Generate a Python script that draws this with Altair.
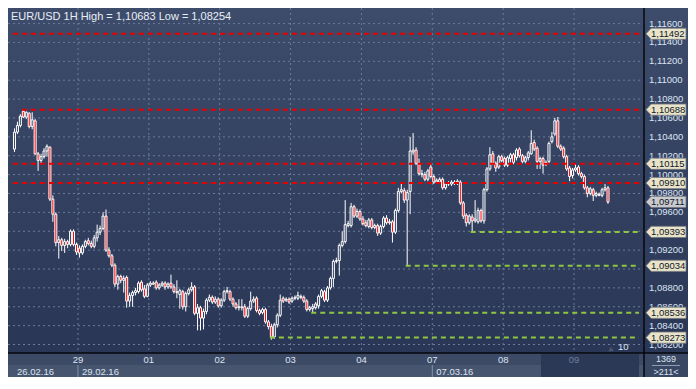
import altair as alt
import pandas as pd

# ---------------- data ----------------
TITLE = "EUR/USD 1H High = 1,10683 Low = 1,08254"

OPEN = [1.1027, 1.1045, 1.1052, 1.1067, 1.1061, 1.1065, 1.1051, 1.1057, 1.1022, 1.1015, 1.1019, 1.1025,
        1.1029, 1.0974, 1.0958, 1.0928, 1.0931, 1.0925, 1.0929, 1.0926, 1.0940, 1.0926, 1.0922, 1.0917,
        1.0924, 1.0930, 1.0927, 1.0924, 1.0933, 1.0939, 1.0943, 1.0956, 1.0920, 1.0914, 1.0904, 1.0884,
        1.0892, 1.0888, 1.0891, 1.0866, 1.0872, 1.0875, 1.0876, 1.0886, 1.0879, 1.0871, 1.0883, 1.0885,
        1.0886, 1.0880, 1.0883, 1.0885, 1.0881, 1.0885, 1.0881, 1.0876, 1.0873, 1.0876, 1.0860, 1.0874,
        1.0878, 1.0881, 1.0853, 1.0859, 1.0848, 1.0855, 1.0867, 1.0870, 1.0865, 1.0868, 1.0861, 1.0867,
        1.0876, 1.0876, 1.0868, 1.0863, 1.0859, 1.0860, 1.0860, 1.0850, 1.0858, 1.0866, 1.0869, 1.0856,
        1.0854, 1.0857, 1.0844, 1.0839, 1.0828, 1.0841, 1.0851, 1.0869, 1.0867, 1.0868, 1.0866, 1.0869,
        1.0869, 1.0871, 1.0870, 1.0866, 1.0857, 1.0858, 1.0859, 1.0861, 1.0871, 1.0876, 1.0867, 1.0880,
        1.0890, 1.0908, 1.0909, 1.0925, 1.0929, 1.0946, 1.0946, 1.0966, 1.0956, 1.0961, 1.0953, 1.0949,
        1.0945, 1.0952, 1.0944, 1.0946, 1.0938, 1.0945, 1.0954, 1.0949, 1.0950, 1.0939, 1.0962, 1.0982,
        1.0983, 1.0973, 1.0982, 1.1024, 1.1026, 1.1012, 1.1001, 1.1000, 1.0995, 1.1008, 1.0998, 1.0992,
        1.0992, 1.0995, 1.0986, 1.0990, 1.0990, 1.0992, 1.0991, 1.0992, 1.0970, 1.0957, 1.0949, 1.0955,
        1.0951, 1.0950, 1.0962, 1.0951, 1.0984, 1.1006, 1.1022, 1.1012, 1.1008, 1.1019, 1.1017, 1.1010,
        1.1017, 1.1021, 1.1018, 1.1027, 1.1020, 1.1014, 1.1018, 1.1022, 1.1034, 1.1028, 1.1014, 1.1017,
        1.1011, 1.1014, 1.1035, 1.1043, 1.1057, 1.1030, 1.1028, 1.1019, 1.1007, 1.0999, 1.1005, 1.1008,
        1.1001, 1.0998, 1.0986, 1.0980, 1.0984, 1.0978, 1.0978, 1.0978, 1.0984, 1.0986]

HIGH = [1.1049, 1.1056, 1.1064, 1.1068, 1.1067, 1.1066, 1.1066, 1.1059, 1.1024, 1.1022, 1.1028, 1.1032,
        1.1030, 1.0978, 1.0960, 1.0935, 1.0933, 1.0932, 1.0931, 1.0942, 1.0942, 1.0928, 1.0925, 1.0926,
        1.0931, 1.0933, 1.0930, 1.0936, 1.0947, 1.0946, 1.0960, 1.0963, 1.0923, 1.0916, 1.0906, 1.0894,
        1.0894, 1.0893, 1.0893, 1.0875, 1.0877, 1.0880, 1.0887, 1.0888, 1.0883, 1.0885, 1.0887, 1.0887,
        1.0888, 1.0885, 1.0887, 1.0887, 1.0886, 1.0894, 1.0884, 1.0888, 1.0879, 1.0878, 1.0876, 1.0880,
        1.0886, 1.0883, 1.0863, 1.0861, 1.0858, 1.0869, 1.0873, 1.0872, 1.0871, 1.0870, 1.0869, 1.0878,
        1.0881, 1.0878, 1.0870, 1.0865, 1.0868, 1.0868, 1.0863, 1.0860, 1.0876, 1.0871, 1.0871, 1.0858,
        1.0859, 1.0859, 1.0846, 1.0842, 1.0843, 1.0853, 1.0873, 1.0871, 1.0870, 1.0870, 1.0871, 1.0872,
        1.0876, 1.0873, 1.0872, 1.0868, 1.0861, 1.0863, 1.0865, 1.0873, 1.0879, 1.0878, 1.0882, 1.0892,
        1.0910, 1.0912, 1.0927, 1.0940, 1.0973, 1.0951, 1.0970, 1.0968, 1.0964, 1.0963, 1.0956, 1.0952,
        1.0954, 1.0954, 1.0948, 1.0948, 1.0947, 1.0956, 1.0957, 1.0953, 1.0952, 1.0964, 1.0986, 1.0991,
        1.0986, 1.0984, 1.1040, 1.1044, 1.1029, 1.1017, 1.1005, 1.1003, 1.1006, 1.1011, 1.1000, 1.0996,
        1.0997, 1.0997, 1.0992, 1.0993, 1.0994, 1.0994, 1.0995, 1.0994, 1.0972, 1.0959, 1.0958, 1.0958,
        1.0973, 1.0965, 1.0964, 1.0986, 1.1008, 1.1029, 1.1025, 1.1014, 1.1021, 1.1021, 1.1019, 1.1020,
        1.1023, 1.1023, 1.1028, 1.1029, 1.1022, 1.1020, 1.1025, 1.1047, 1.1037, 1.1030, 1.1019, 1.1019,
        1.1015, 1.1035, 1.1045, 1.1060, 1.1061, 1.1032, 1.1030, 1.1021, 1.1009, 1.1007, 1.1011, 1.1010,
        1.1003, 1.1000, 1.0988, 1.0987, 1.0986, 1.0982, 1.0981, 1.0986, 1.0990, 1.0988]

LOW = [1.1024, 1.1043, 1.1050, 1.1060, 1.1059, 1.1049, 1.1048, 1.1021, 1.1004, 1.1011, 1.1017, 1.1019,
       1.0972, 1.0950, 1.0924, 1.0911, 1.0919, 1.0917, 1.0922, 1.0924, 1.0924, 1.0915, 1.0912, 1.0915,
       1.0922, 1.0925, 1.0922, 1.0922, 1.0929, 1.0936, 1.0941, 1.0918, 1.0912, 1.0902, 1.0881, 1.0878,
       1.0885, 1.0875, 1.0859, 1.0860, 1.0860, 1.0872, 1.0874, 1.0876, 1.0869, 1.0870, 1.0881, 1.0883,
       1.0878, 1.0878, 1.0881, 1.0878, 1.0879, 1.0879, 1.0874, 1.0869, 1.0858, 1.0857, 1.0855, 1.0872,
       1.0876, 1.0851, 1.0835, 1.0835, 1.0836, 1.0852, 1.0865, 1.0863, 1.0863, 1.0859, 1.0859, 1.0865,
       1.0874, 1.0866, 1.0860, 1.0857, 1.0856, 1.0856, 1.0848, 1.0848, 1.0856, 1.0864, 1.0854, 1.0851,
       1.0852, 1.0842, 1.0836, 1.0825, 1.0826, 1.0838, 1.0849, 1.0864, 1.0865, 1.0863, 1.0864, 1.0867,
       1.0867, 1.0868, 1.0864, 1.0855, 1.0855, 1.0854, 1.0857, 1.0858, 1.0869, 1.0865, 1.0865, 1.0878,
       1.0881, 1.0906, 1.0893, 1.0923, 1.0927, 1.0944, 1.0944, 1.0954, 1.0954, 1.0951, 1.0946, 1.0944,
       1.0943, 1.0942, 1.0942, 1.0935, 1.0936, 1.0943, 1.0947, 1.0947, 1.0928, 1.0937, 1.0960, 1.0980,
       1.0970, 1.0903, 1.0958, 1.1021, 1.1010, 1.0999, 1.0997, 1.0993, 1.0993, 1.0996, 1.0990, 1.0991,
       1.0990, 1.0984, 1.0984, 1.0988, 1.0988, 1.0989, 1.0989, 1.0968, 1.0953, 1.0945, 1.0947, 1.0939,
       1.0949, 1.0948, 1.0949, 1.0948, 1.0982, 1.1004, 1.1010, 1.1003, 1.1006, 1.1013, 1.1008, 1.1008,
       1.1013, 1.1011, 1.1015, 1.1018, 1.1012, 1.1012, 1.1015, 1.1021, 1.1025, 1.1006, 1.1006, 1.1001,
       1.1009, 1.1012, 1.1033, 1.1041, 1.1028, 1.1025, 1.1017, 1.1004, 1.0993, 1.0996, 1.1003, 1.0999,
       1.0996, 1.0984, 1.0976, 1.0978, 1.0972, 1.0976, 1.0977, 1.0976, 1.0982, 1.0969]

CLOSE = [1.1045, 1.1052, 1.1062, 1.1061, 1.1066, 1.1051, 1.1058, 1.1022, 1.1015, 1.1019, 1.1025, 1.1030,
         1.0974, 1.0958, 1.0928, 1.0931, 1.0925, 1.0929, 1.0926, 1.0940, 1.0926, 1.0918, 1.0917, 1.0924,
         1.0929, 1.0927, 1.0924, 1.0933, 1.0939, 1.0943, 1.0956, 1.0920, 1.0914, 1.0904, 1.0884, 1.0892,
         1.0888, 1.0890, 1.0866, 1.0872, 1.0875, 1.0877, 1.0885, 1.0878, 1.0871, 1.0883, 1.0885, 1.0884,
         1.0880, 1.0883, 1.0885, 1.0881, 1.0884, 1.0881, 1.0876, 1.0875, 1.0877, 1.0860, 1.0874, 1.0878,
         1.0881, 1.0853, 1.0859, 1.0848, 1.0855, 1.0867, 1.0870, 1.0865, 1.0868, 1.0861, 1.0867, 1.0876,
         1.0877, 1.0868, 1.0863, 1.0859, 1.0860, 1.0859, 1.0850, 1.0858, 1.0866, 1.0868, 1.0856, 1.0853,
         1.0857, 1.0844, 1.0839, 1.0828, 1.0841, 1.0851, 1.0867, 1.0866, 1.0868, 1.0865, 1.0869, 1.0870,
         1.0872, 1.0870, 1.0866, 1.0857, 1.0859, 1.0860, 1.0863, 1.0871, 1.0877, 1.0867, 1.0880, 1.0890,
         1.0908, 1.0909, 1.0925, 1.0929, 1.0947, 1.0948, 1.0966, 1.0956, 1.0961, 1.0953, 1.0948, 1.0946,
         1.0952, 1.0944, 1.0946, 1.0938, 1.0945, 1.0954, 1.0949, 1.0950, 1.0939, 1.0962, 1.0982, 1.0984,
         1.0973, 1.0981, 1.1025, 1.1026, 1.1012, 1.1001, 1.1000, 1.0995, 1.1004, 1.0998, 1.0992, 1.0994,
         1.0995, 1.0986, 1.0990, 1.0991, 1.0992, 1.0991, 1.0993, 1.0970, 1.0956, 1.0949, 1.0956, 1.0951,
         1.0953, 1.0962, 1.0951, 1.0984, 1.1006, 1.1021, 1.1012, 1.1007, 1.1019, 1.1015, 1.1010, 1.1018,
         1.1021, 1.1013, 1.1026, 1.1020, 1.1014, 1.1018, 1.1023, 1.1033, 1.1027, 1.1014, 1.1017, 1.1010,
         1.1013, 1.1033, 1.1040, 1.1057, 1.1030, 1.1027, 1.1019, 1.1006, 1.0998, 1.1005, 1.1007, 1.1001,
         1.0998, 1.0986, 1.0980, 1.0985, 1.0978, 1.0980, 1.0979, 1.0984, 1.0986, 1.0971]

RED_LEVELS = [1.11492, 1.10688, 1.10115, 1.09910]
RED_FROM = [0, 3, 0, 0]
GREEN_LEVELS = [1.09393, 1.09034, 1.08536, 1.08273]
GREEN_FROM = [155, 133, 101, 87]
LAST_PRICE = 1.09711

PRICE_TICKS = [1.082, 1.084, 1.086, 1.088, 1.090, 1.092, 1.094, 1.096, 1.098,
               1.100, 1.102, 1.104, 1.106, 1.108, 1.110, 1.112, 1.114, 1.116]

DAY_LABELS = ["29", "01", "02", "03", "04", "07", "08", "09"]
DAY_FROM = [22, 46, 70, 94, 118, 142, 166, 190]
DATE_LABELS = ["26.02.16", "29.02.16", "07.03.16"]
DATE_FROM = [0, 22, 142]
CORNER_TOP = "1369"
CORNER_BOTTOM = ">211<"
SCALE_LABEL = "10"

# ---------------- layout ----------------
W, H = 636, 345          # plot area
RW, BH = 44, 24          # right price strip, bottom time strip
X_MIN, X_MAX = -0.5, 211.5
Y_MIN, Y_MAX = 1.0811, 1.11765
SHADE_FROM = 178.3       # start of the darker block in the time strip

FONT = "Liberation Sans"
TXT = "#dbe4f2"
xs = alt.Scale(domain=[X_MIN, X_MAX], nice=False, zero=False)
ys = alt.Scale(domain=[Y_MIN, Y_MAX], nice=False, zero=False)

def grad(c0, c1):
    return alt.Gradient(gradient="linear",
                        stops=[alt.GradientStop(color=c0, offset=0),
                               alt.GradientStop(color=c1, offset=1)],
                        x1=0, x2=0, y1=0, y2=1)

one = pd.DataFrame({"k": [0]})

df = pd.DataFrame({"i": range(len(CLOSE)), "open": OPEN, "high": HIGH, "low": LOW, "close": CLOSE})
df["top"] = df[["open", "close"]].max(axis=1)
df["bot"] = df[["open", "close"]].min(axis=1)

tag_prices = RED_LEVELS + GREEN_LEVELS + [LAST_PRICE]
# scale labels that sit fully under a price tag are hidden, as in the terminal
shown_ticks = [t for t in PRICE_TICKS if min(abs(t - p) for p in tag_prices) > 0.0004]

# backgrounds
bg_plot = alt.Chart(one).mark_rect(fill=grad("#3e4c6c", "#2a3656")).encode(
    x=alt.value(0), x2=alt.value(W), y=alt.value(0), y2=alt.value(H))
bg_right = alt.Chart(one).mark_rect(fill=grad("#3e4c6c", "#2a3656")).encode(
    x=alt.value(W), x2=alt.value(W + RW), y=alt.value(0), y2=alt.value(H))
row_top = alt.Chart(one).mark_rect(fill="#3d4a66").encode(
    x=alt.value(0), x2=alt.value(W), y=alt.value(H), y2=alt.value(H + 12))
row_bot = alt.Chart(one).mark_rect(fill="#48556f").encode(
    x=alt.value(0), x2=alt.value(W), y=alt.value(H + 12), y2=alt.value(H + BH))
corner = alt.Chart(one).mark_rect(fill="#3a4763").encode(
    x=alt.value(W), x2=alt.value(W + RW), y=alt.value(H), y2=alt.value(H + BH))
shade = alt.Chart(pd.DataFrame({"s": [SHADE_FROM], "e": [X_MAX]})).mark_rect(fill="#2c3956").encode(
    x=alt.X("s:Q", scale=xs, axis=None), x2="e:Q", y=alt.value(H + 1), y2=alt.value(H + BH))

# grid
hgrid = alt.Chart(pd.DataFrame({"p": PRICE_TICKS})).mark_rule(
    color="#6c7b9b", strokeDash=[2, 3], strokeWidth=1).encode(
    y=alt.Y("p:Q", scale=ys, axis=None), x=alt.value(0), x2=alt.value(W))
vgrid = alt.Chart(pd.DataFrame({"d": DAY_FROM})).transform_calculate(b="datum.d - 0.5").mark_rule(
    color="#6c7b9b", strokeDash=[2, 3], strokeWidth=1).encode(
    x=alt.X("b:Q", scale=xs, axis=None), y=alt.value(0), y2=alt.value(H))

# candles
wick_hi = alt.Chart(df).mark_rule(color="white", strokeWidth=1).encode(
    x=alt.X("i:Q", scale=xs, axis=None), y=alt.Y("high:Q", scale=ys, axis=None), y2="top:Q")
wick_lo = alt.Chart(df).mark_rule(color="white", strokeWidth=1).encode(
    x=alt.X("i:Q", scale=xs, axis=None), y=alt.Y("bot:Q", scale=ys, axis=None), y2="low:Q")
bodies = alt.Chart(df).mark_bar(size=2, stroke="white", strokeWidth=1).encode(
    x=alt.X("i:Q", scale=xs, axis=None),
    y=alt.Y("top:Q", scale=ys, axis=None), y2="bot:Q",
    fill=alt.condition("datum.close >= datum.open", alt.value("transparent"), alt.value("#ff0000")))

# level lines
lv = pd.DataFrame({
    "p": RED_LEVELS + GREEN_LEVELS,
    "s": [f - 0.5 for f in RED_FROM + GREEN_FROM],
    "e": [X_MAX] * 8,
    "kind": ["r"] * 4 + ["g"] * 4,
})
levels = alt.Chart(lv).mark_rule(strokeWidth=2, strokeDash=[5, 4]).encode(
    x=alt.X("s:Q", scale=xs, axis=None), x2="e:Q",
    y=alt.Y("p:Q", scale=ys, axis=None),
    color=alt.Color("kind:N", scale=alt.Scale(domain=["r", "g"], range=["#e60000", "#8dc63f"]), legend=None))

# price labels on the right
price_lab = alt.Chart(pd.DataFrame({"p": shown_ticks})).transform_calculate(
    lab="replace(format(datum.p, '.5f'), '.', ',')").mark_text(
    align="left", baseline="middle", font=FONT, fontSize=9.5, color=TXT).encode(
    x=alt.value(W + 5), y=alt.Y("p:Q", scale=ys, axis=None), text="lab:N")

tg = pd.DataFrame({"p": tag_prices, "kind": ["lvl"] * 8 + ["last"]})
TAG = "M-1,0L-0.74,-0.28L1,-0.28L1,0.28L-0.74,0.28Z"
tags = alt.Chart(tg).mark_point(shape=TAG, size=1600, filled=True, opacity=1,
                                stroke="#70757f", strokeWidth=0.8).encode(
    x=alt.value(W + 22), y=alt.Y("p:Q", scale=ys, axis=None),
    fill=alt.condition("datum.kind == 'last'", alt.value("#c9cbcf"), alt.value("#e9e4c9")))
tag_txt = alt.Chart(tg).transform_calculate(
    lab="replace(format(datum.p, '.5f'), '.', ',')").mark_text(
    align="left", baseline="middle", font=FONT, fontSize=9.5, color="#101828").encode(
    x=alt.value(W + 7), y=alt.Y("p:Q", scale=ys, axis=None), text="lab:N")

# time strip
day_txt = alt.Chart(pd.DataFrame({"d": DAY_FROM, "t": DAY_LABELS})).transform_calculate(
    b="datum.d - 0.5").mark_text(align="center", baseline="middle", font=FONT, fontSize=9.5).encode(
    x=alt.X("b:Q", scale=xs, axis=None), y=alt.value(H + 6.5), text="t:N",
    color=alt.condition(f"datum.b >= {SHADE_FROM}", alt.value("#6f7d9b"), alt.value(TXT)))
date_txt = alt.Chart(pd.DataFrame({"d": DATE_FROM, "t": DATE_LABELS})).transform_calculate(
    b="datum.d - 0.5").mark_text(align="left", baseline="middle", font=FONT, fontSize=9.5,
                                 dx=4, color=TXT).encode(
    x=alt.X("b:Q", scale=xs, axis=None), y=alt.value(H + 18.5), text="t:N")
date_sep = alt.Chart(pd.DataFrame({"d": DATE_FROM[1:]})).transform_calculate(
    b="datum.d - 0.5").mark_rule(color="#8591aa", strokeWidth=1).encode(
    x=alt.X("b:Q", scale=xs, axis=None), y=alt.value(H + 12), y2=alt.value(H + BH))

corner_top = alt.Chart(pd.DataFrame({"t": [CORNER_TOP]})).mark_text(
    align="center", baseline="middle", font=FONT, fontSize=9, color=TXT).encode(
    x=alt.value(W + 22), y=alt.value(H + 6), text="t:N")
corner_bot = alt.Chart(pd.DataFrame({"t": [CORNER_BOTTOM]})).mark_text(
    align="center", baseline="middle", font=FONT, fontSize=9, color=TXT).encode(
    x=alt.value(W + 22), y=alt.value(H + 18.5), text="t:N")
corner_line = alt.Chart(one).mark_rule(color="#8e9ab2", strokeWidth=1).encode(
    x=alt.value(W + 8), x2=alt.value(W + 36), y=alt.value(H + 12.5))

scale_txt = alt.Chart(pd.DataFrame({"t": [SCALE_LABEL]})).mark_text(
    align="left", baseline="middle", font=FONT, fontSize=9.5, color=TXT).encode(
    x=alt.value(W - 26), y=alt.value(H - 6), text="t:N")
scale_mark = alt.Chart(one).mark_point(shape="triangle-up", size=28, filled=True,
                                       color="#4b5570", opacity=1).encode(
    x=alt.value(W - 33), y=alt.value(H - 4))

# frame lines
vline = alt.Chart(one).mark_rule(color="#05070c", strokeWidth=1.5).encode(
    x=alt.value(W), y=alt.value(0), y2=alt.value(H + BH))
hline = alt.Chart(one).mark_rule(color="#05070c", strokeWidth=1.5).encode(
    x=alt.value(0), x2=alt.value(W + RW), y=alt.value(H))

title = alt.Chart(pd.DataFrame({"t": [TITLE]})).mark_text(
    align="left", baseline="top", font=FONT, fontSize=11, color="#e9eef6").encode(
    x=alt.value(3), y=alt.value(3), text="t:N")

chart = alt.layer(
    bg_plot, bg_right, row_top, row_bot, corner, shade,
    hgrid, vgrid, wick_hi, wick_lo, bodies, levels,
    price_lab, tags, tag_txt,
    day_txt, date_txt, date_sep, corner_top, corner_bot, corner_line, scale_mark, scale_txt,
    vline, hline, title,
).properties(
    width=W, height=H,
    padding={"left": 0, "top": 0, "right": RW, "bottom": BH},
    autosize=alt.AutoSizeParams(type="none"),
    background="#34415f",
).configure_view(strokeWidth=0)

chart.save("out.html", embed_options={"renderer": "svg", "actions": False})
